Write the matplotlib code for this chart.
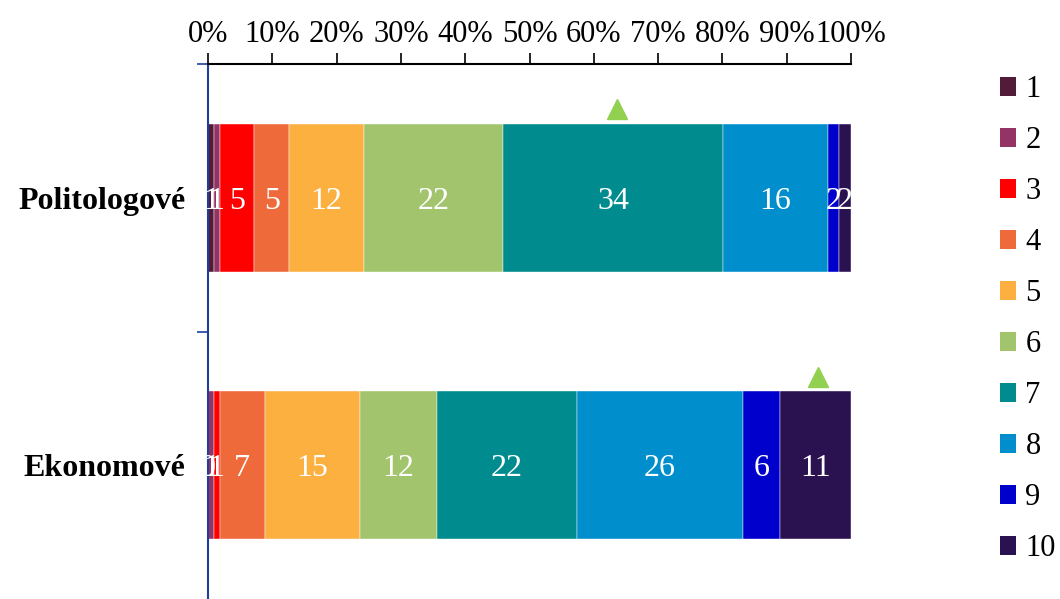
import numpy as np
import matplotlib.pyplot as plt
from matplotlib.patches import Patch

plt.rcParams['font.family'] = ['Liberation Serif', 'DejaVu Serif']

groups = ["Politologové", "Ekonomové"]
scores = ["1", "2", "3", "4", "5", "6", "7", "8", "9", "10"]

# share of answers (%) for each score, per group
politologove = [0.9, 0.9, 5.4, 5.4, 11.7, 21.6, 34.2, 16.3, 1.7, 1.9]
ekonomove = [0.0, 0.9, 0.9, 7.0, 14.8, 12.0, 21.8, 25.8, 5.8, 11.0]

# position of the marker triangle above each bar (%)
marker_pos = [63.6, 94.9]

colors = ["#521B38", "#943464", "#FF0000", "#EE6A3A", "#FBB040",
          "#A2C46C", "#008C8F", "#008ECC", "#0000CC", "#2A1150"]

data = np.array([politologove, ekonomove])
data = data / data.sum(axis=1, keepdims=True) * 100

fig = plt.figure(figsize=(10.6, 5.99), dpi=100)
ax = fig.add_axes([208 / 1060, 0.0, 643 / 1060, 1 - 64 / 599])

y = np.arange(len(groups))
left = np.zeros(len(groups))
for i, s in enumerate(scores):
    ax.barh(y, data[:, i], left=left, height=0.553, color=colors[i],
            edgecolor="white", linewidth=0.3, label=s)
    for j in range(len(groups)):
        ax.text(left[j] + data[j, i] / 2, y[j], f"{data[j, i]:.0f}",
                ha="center", va="center_baseline", color="white", fontsize=23)
    left += data[:, i]

ax.plot(marker_pos, y - 0.33, linestyle="none", marker="^",
        markersize=14, color="#92D050", clip_on=False)

ax.set_xlim(0, 100)
ax.set_ylim(1.5, -0.5)
ax.xaxis.tick_top()
ax.set_xticks(np.arange(0, 101, 10))
ax.set_xticklabels([f"{v}%" for v in range(0, 101, 10)], fontsize=22)
ax.tick_params(axis="x", length=8, width=1.2, pad=3)

ax.set_yticks(y)
ax.set_yticklabels(groups, fontsize=23, fontweight="bold")
ax.set_yticks([-0.5, 0.5], minor=True)
ax.tick_params(axis="y", which="major", length=0, pad=16)
ax.tick_params(axis="y", which="minor", length=8, color="#1F3F9F", width=1.2)

for side in ["right", "bottom"]:
    ax.spines[side].set_visible(False)
ax.spines["top"].set_linewidth(1.5)
ax.spines["left"].set_color("#1F3F9F")
ax.spines["left"].set_linewidth(1.5)

handles = [Patch(facecolor=c, label=s) for c, s in zip(colors, scores)]
fig.legend(handles=handles, loc="upper left", bbox_to_anchor=(0.917, 0.92),
           frameon=False, fontsize=22, handlelength=0.55, handleheight=0.55,
           handletextpad=0.3, labelspacing=0.72)

fig.savefig("out.png", dpi=100)
